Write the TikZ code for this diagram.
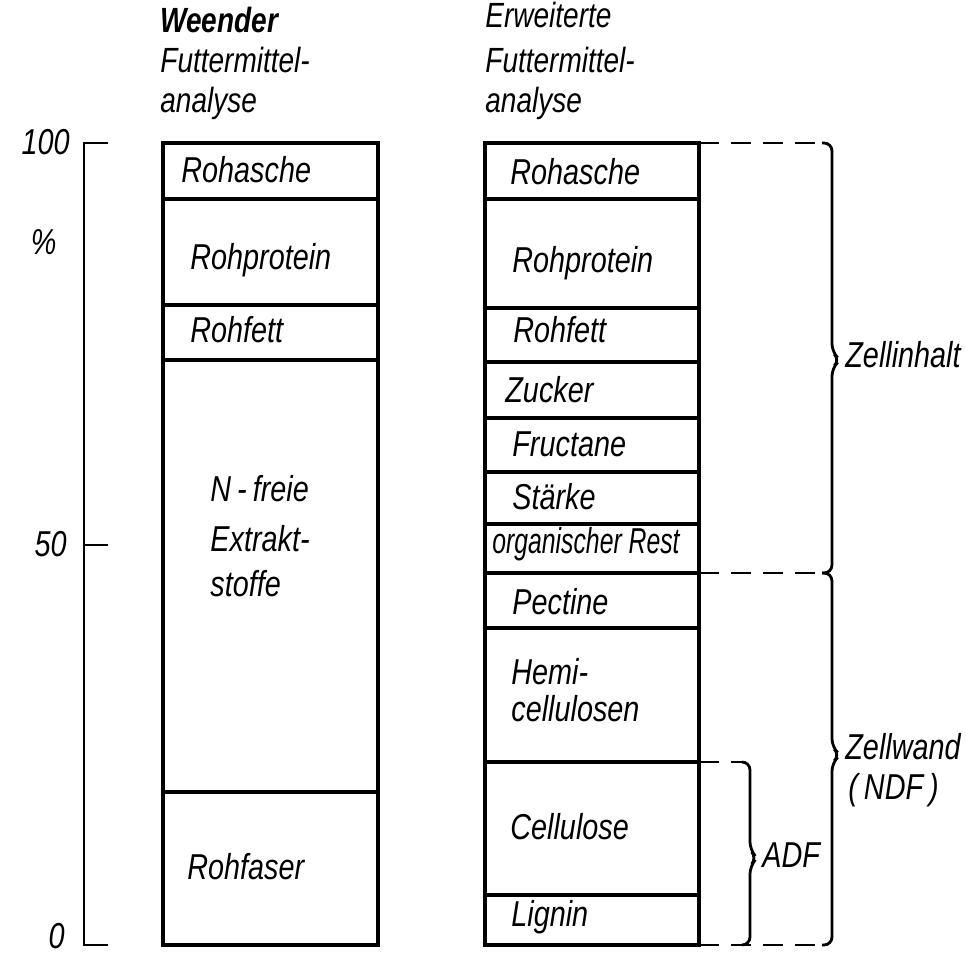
\documentclass[tikz,border=0pt]{standalone}
\usepackage{fontspec}
\setmainfont{Liberation Sans}[FakeStretch=0.8]
\usetikzlibrary{positioning}
\tikzset{
  fmcol/.style={draw=black, line width=1.8pt},
  fmsep/.style={draw=black, line width=1.6pt},
  fmscale/.style={draw=black, line width=1.2pt},
  fmlabel/.style={anchor=base west, inner sep=0pt, font=\fontsize{18}{22}\selectfont\itshape},
  fmhead/.style={fmlabel, font=\fontsize{17.5}{22}\selectfont\itshape},
  fmaxis/.style={fmlabel, anchor=base east},
  fmbrace/.style={draw=black, line width=1.4pt, rounded corners=4pt},
  fmdash/.style={draw=black, line width=1.4pt, dash pattern=on 10pt off 6pt},
}

\begin{document}
\begin{tikzpicture}[x=0.5pt,y=-0.5pt]
  \useasboundingbox (0,0) rectangle (966,956);
  % headings
  \node[fmhead, font=\fontsize{17.5}{22}\selectfont\itshape\bfseries] (wh1) at (160,33) {Weender};
  \node[fmhead] (wh2) at (160,73)  {Futtermittel-};
  \node[fmhead] (wh3) at (160,113) {analyse};
  \node[fmhead] (eh1) at (485,28)  {Erweiterte};
  \node[fmhead] (eh2) at (485,73)  {Futtermittel-};
  \node[fmhead] (eh3) at (485,113) {analyse};
  % percent scale
  \draw[fmscale] (108,143) -- (84,143) -- (84,945) -- (108,945);
  \draw[fmscale] (84,545) -- (108,545);
  \node[fmaxis] (p100) at (70,155) {100};
  \node[fmaxis] (pct)  at (57,255) {\%};
  \node[fmaxis] (p50)  at (67,557) {50};
  \node[fmaxis] (p0)   at (65,949) {0};
  % Weender column
  \draw[fmcol] (163,143) rectangle (378,945);
  \foreach \y in {199,305,360,792}
    \draw[fmsep] (163,\y) -- (378,\y);
  \node[fmlabel] (wasche) at (181,183) {Rohasche};
  \node[fmlabel] (wprot)  at (190,270) {Rohprotein};
  \node[fmlabel] (wfett)  at (190,343) {Rohfett};
  \node[fmlabel] (wnfe1)  at (210,502) {N\,-\,freie};
  \node[fmlabel] (wnfe2)  at (210,552) {Extrakt-};
  \node[fmlabel] (wnfe3)  at (210,597) {stoffe};
  \node[fmlabel] (wfaser) at (187,880) {Rohfaser};
  % extended column
  \draw[fmcol] (485,143) rectangle (699,945);
  \foreach \y in {199,308,362,418,472,524,573,628,762,895}
    \draw[fmsep] (485,\y) -- (699,\y);
  \node[fmlabel] (easche) at (510,185) {Rohasche};
  \node[fmlabel] (eprot)  at (512,273) {Rohprotein};
  \node[fmlabel] (efett)  at (513,343) {Rohfett};
  \node[fmlabel] (ezuck)  at (505,403) {Zucker};
  \node[fmlabel] (efruct) at (512,457) {Fructane};
  \node[fmlabel] (estaer) at (512,510) {Stärke};
  \node[fmlabel] (erest)  at (492,554) {\scalebox{0.86}[1]{organischer Rest}};
  \node[fmlabel] (epect)  at (512,615) {Pectine};
  \node[fmlabel] (ehemi1) at (511,685) {Hemi-};
  \node[fmlabel] (ehemi2) at (511,722) {cellulosen};
  \node[fmlabel] (ecell)  at (510,840) {Cellulose};
  \node[fmlabel] (elign)  at (511,927) {Lignin};
  % braces
  \coordinate (zi) at (840,360);
  \coordinate (zw) at (840,755);
  \coordinate (adf) at (757,858);
  \draw[fmdash] (699,143) -- (822,143);
  \draw[fmdash] (699,573) -- (822,573);
  \draw[fmdash] (699,945) -- (822,945);
  \draw[fmdash] (699,762) -- (742,762);
  \draw[fmbrace] (822,143) -- (832,143) -- (832,352) -- (zi) -- (832,368) -- (832,573) -- (822,573);
  \draw[fmbrace] (822,573) -- (832,573) -- (832,747) -- (zw) -- (832,763) -- (832,945) -- (822,945);
  \draw[fmbrace] (742,762) -- (750,762) -- (750,850) -- (adf) -- (750,866) -- (750,945) -- (742,945);
  \node[fmlabel] (lzi)  at (845,368) {Zellinhalt};
  \node[fmlabel] (lzw1) at (845,760) {Zellwand};
  \node[fmlabel] (lzw2) at (848,800) {(\,NDF\,)};
  \node[fmlabel] (ladf) at (762,868) {ADF};
\end{tikzpicture}
\end{document}
